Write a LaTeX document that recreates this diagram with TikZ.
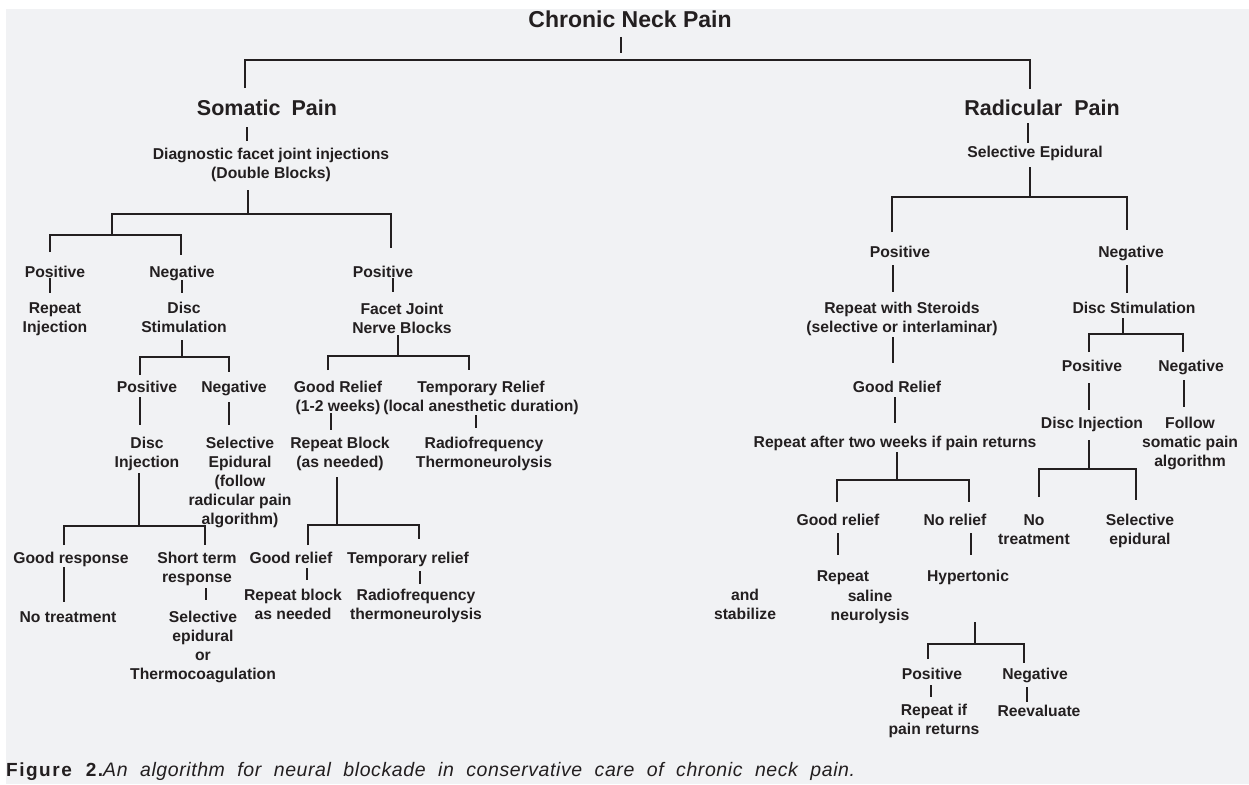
\documentclass[tikz,border=0pt]{standalone}
\usepackage{fontspec}
\setmainfont{Liberation Sans}
\newfontfamily\capfont[LetterSpace=3]{Liberation Sans}
\newfontfamily\capbfont[LetterSpace=8]{Liberation Sans}
\definecolor{ink}{RGB}{35,31,32}
\definecolor{bg}{RGB}{241,242,244}
\tikzset{
 conn/.style={draw=ink, line width=2pt},
 txt/.style={anchor=base, inner sep=0pt, outer sep=0pt, text=ink, font=\fontsize{15.7}{19}\selectfont\bfseries, align=center, text depth=0pt},
 l1/.style={txt, text height=11.2pt},
 l2/.style={txt, yshift=-19pt, text height=30.2pt},
 l3/.style={txt, yshift=-38pt, text height=49.2pt},
 l4/.style={txt, yshift=-57pt, text height=68.2pt},
 l5/.style={txt, yshift=-76pt, text height=87.2pt},
 ttl/.style={anchor=base, inner sep=0pt, outer sep=0pt, text=ink, font=\fontsize{21.5}{26}\selectfont\bfseries, text height=15.4pt, text depth=0pt},
}
\newcommand\tk[5]{\draw[conn,shorten <=#4pt,shorten >=#5pt] (#1.south -| #3,0) -- (#2.north -| #3,0);}
\begin{document}
\begin{tikzpicture}[x=1pt,y=-1pt]
\useasboundingbox (0,0) rectangle (1249,784);
\fill[white] (0,0) rectangle (1249,784);
\fill[bg] (6,9) rectangle (1249,784);

% ---- nodes
\node[ttl, font=\fontsize{23}{28}\selectfont\bfseries, text height=16.5pt] (cnp) at (630,28) {Chronic Neck Pain};
\node[ttl] (som) at (267,115) {Somatic\hspace{5pt} Pain};
\node[ttl] (rad) at (1042,115) {Radicular\hspace{6pt} Pain};

\node[l2] (diag) at (271,159) {Diagnostic facet joint injections\\(Double Blocks)};
\node[l1] (sel) at (1035,157) {Selective Epidural};

\node[l1] (pos1) at (55,277) {Positive};
\node[l1] (neg1) at (182,277) {Negative};
\node[l1] (pos2) at (383,277) {Positive};
\node[l2] (rep1) at (55,313) {Repeat\\Injection};
\node[l2] (disc1) at (184,313) {Disc\\Stimulation};
\node[l2] (facet) at (402,314) {Facet Joint\\Nerve Blocks};
\node[l1] (pos3) at (147,392) {Positive};
\node[l1] (neg3) at (234,392) {Negative};
\node[l2] (good1) at (338,392) {Good Relief\\(1-2 weeks)};
\node[l2] (temp1) at (481,392) {Temporary Relief\\(local anesthetic duration)};
\node[l2] (dinj) at (147,448) {Disc\\Injection};
\node[l5] (selep) at (240,448) {Selective\\Epidural\\(follow\\radicular pain\\algorithm)};
\node[l2] (repb) at (340,448) {Repeat Block\\(as needed)};
\node[l2] (radio) at (484,448) {Radiofrequency\\Thermoneurolysis};
\node[l1] (gresp) at (71,563) {Good response};
\node[l2] (short) at (197,563) {Short term\\response};
\node[l1] (good2) at (291,563) {Good relief};
\node[l1] (temp2) at (408,563) {Temporary relief};
\node[l1] (notreat) at (68,622) {No treatment};
\node[l4] (selth) at (203,622) {Selective\\epidural\\or\\Thermocoagulation};
\node[l2] (repbl) at (293,600) {Repeat block\\as needed};
\node[l2] (radth) at (416,600) {Radiofrequency\\thermoneurolysis};

\node[l1] (posR) at (900,257) {Positive};
\node[l1] (negR) at (1131,257) {Negative};
\node[l2] (rws) at (902,313) {Repeat with Steroids\\(selective or interlaminar)};
\node[l1] (dstim) at (1134,313) {Disc Stimulation};
\node[l1] (gr) at (897,392) {Good Relief};
\node[l1] (posR2) at (1092,371) {Positive};
\node[l1] (negR2) at (1191,371) {Negative};
\node[l1] (rat) at (895,447) {Repeat after two weeks if pain returns};
\node[l1] (dinj2) at (1092,428) {Disc Injection};
\node[l3] (follow) at (1190,428) {Follow\\somatic pain\\algorithm};
\node[l1] (gr2) at (838,525) {Good relief};
\node[l1] (norel) at (955,525) {No relief};
\node[l2] (notr) at (1034,525) {No\\treatment};
\node[l2] (sel2) at (1140,525) {Selective\\epidural};
\node[l1] (rep3) at (843,581) {Repeat};
\node[l2] (sal) at (870,601) {saline\\neurolysis};
\node[l1] (hyp) at (968,581) {Hypertonic};
\node[l2] (andst) at (745,600) {and\\stabilize};
\node[l1] (posR3) at (932,679) {Positive};
\node[l1] (negR3) at (1035,679) {Negative};
\node[l2] (repif) at (934,715) {Repeat if\\pain returns};
\node[l1] (reev) at (1039,716) {Reevaluate};

\node[anchor=base west, inner sep=0pt, text=ink] (cap) at (6,776)
 {\makebox[97pt][s]{\capbfont\fontsize{19}{22}\selectfont\bfseries Figure 2.}\makebox[752pt][s]{\capfont\fontsize{19.5}{22}\selectfont\itshape An algorithm for neural blockade in conservative care of chronic neck pain.}};

% ---- connectors: top
\coordinate (j0) at (621,60);
\draw[conn,shorten <=9pt,shorten >=7pt] (cnp.south -| j0) -- (j0);
\draw[conn,shorten <=11.6pt,shorten >=10.6pt] (som.north -| 245,0) |- (j0) -| (rad.north -| 1030,0);

% somatic branch
\tk{som}{diag}{247}{12}{6.8}
\coordinate (j1) at (248,214);
\draw[conn,shorten <=12pt] (diag.south -| j1) -- (j1);
\coordinate (j2) at (112,235);
\draw[conn,shorten >=17.8pt] (j2) |- (j1) -| (pos2.north -| 391,0);
\draw[conn,shorten <=13.8pt,shorten >=10.8pt] (pos1.north -| 50,0) |- (j2) -| (neg1.north -| 181,0);
\tk{pos1}{rep1}{50}{1}{8.8}
\tk{neg1}{disc1}{182}{3}{8.8}
\tk{pos2}{facet}{393}{1}{10.8}
\coordinate (j3) at (182,357);
\draw[conn,shorten <=8pt] (disc1.south -| j3) -- (j3);
\draw[conn,shorten <=5.8pt,shorten >=8.8pt] (pos3.north -| 140,0) |- (j3) -| (neg3.north -| 229,0);
\tk{pos3}{dinj}{140}{5}{11.8}
\tk{neg3}{selep}{229}{10}{11.8}
\coordinate (j4) at (139,526);
\draw[conn,shorten <=6pt] (dinj.south -| j4) -- (j4);
\draw[conn,shorten <=6.8pt,shorten >=6.8pt] (gresp.north -| 64,0) |- (j4) -| (short.north -| 205,0);
\tk{gresp}{notreat}{64}{4}{8.8}
\tk{short}{selth}{206}{6}{10.8}
\coordinate (j5) at (398,356);
\draw[conn,shorten <=2pt] (facet.south -| j5) -- (j5);
\draw[conn,shorten <=10.8pt,shorten >=10.8pt] (good1.north -| 328,0) |- (j5) -| (temp1.north -| 469,0);
\tk{good1}{repb}{331}{2}{6.8}
\tk{temp1}{radio}{476}{4}{8.8}
\coordinate (j6) at (337,525);
\draw[conn,shorten <=10pt] (repb.south -| j6) -- (j6);
\draw[conn,shorten <=6.8pt,shorten >=12.8pt] (good2.north -| 308,0) |- (j6) -| (temp2.north -| 419,0);
\tk{good2}{repbl}{307}{5}{8.8}
\tk{temp2}{radth}{420}{8}{4.8}

% radicular branch
\tk{rad}{sel}{1028}{8}{2.8}
\coordinate (j7) at (1030,197);
\draw[conn,shorten <=10pt] (sel.south -| j7) -- (j7);
\draw[conn,shorten <=13.8pt,shorten >=15.8pt] (posR.north -| 892,0) |- (j7) -| (negR.north -| 1127,0);
\tk{posR}{rws}{893}{8}{9.8}
\tk{rws}{gr}{893}{5}{17.8}
\tk{gr}{rat}{895}{5}{12.8}
\coordinate (j8) at (897,480);
\draw[conn,shorten <=5pt] (rat.south -| j8) -- (j8);
\draw[conn,shorten <=11.8pt,shorten >=11.8pt] (gr2.north -| 837,0) |- (j8) -| (norel.north -| 969,0);
\tk{gr2}{rep3}{838}{8}{14.8}
\tk{norel}{hyp}{971}{8}{14.8}
\coordinate (j9) at (975,644);
\draw[conn,shorten <=41pt] (hyp.south -| j9) -- (j9);
\draw[conn,shorten <=8.8pt,shorten >=4.8pt] (posR3.north -| 928,0) |- (j9) -| (negR3.north -| 1024,0);
\tk{posR3}{repif}{931}{6}{6.8}
\tk{negR3}{reev}{1027}{8}{2.8}
\tk{negR}{dstim}{1127}{8}{8.8}
\coordinate (j10) at (1123,334);
\draw[conn,shorten <=5pt] (dstim.south -| j10) -- (j10);
\draw[conn,shorten <=7.8pt,shorten >=7.8pt] (posR2.north -| 1089,0) |- (j10) -| (negR2.north -| 1183,0);
\tk{posR2}{dinj2}{1089}{12}{6.8}
\tk{negR2}{follow}{1184}{9}{9.8}
\coordinate (j11) at (1089,469);
\draw[conn,shorten <=12pt] (dinj2.south -| j11) -- (j11);
\draw[conn,shorten <=16.8pt,shorten >=13.8pt] (notr.north -| 1039,0) |- (j11) -| (sel2.north -| 1136,0);
\end{tikzpicture}
\end{document}
